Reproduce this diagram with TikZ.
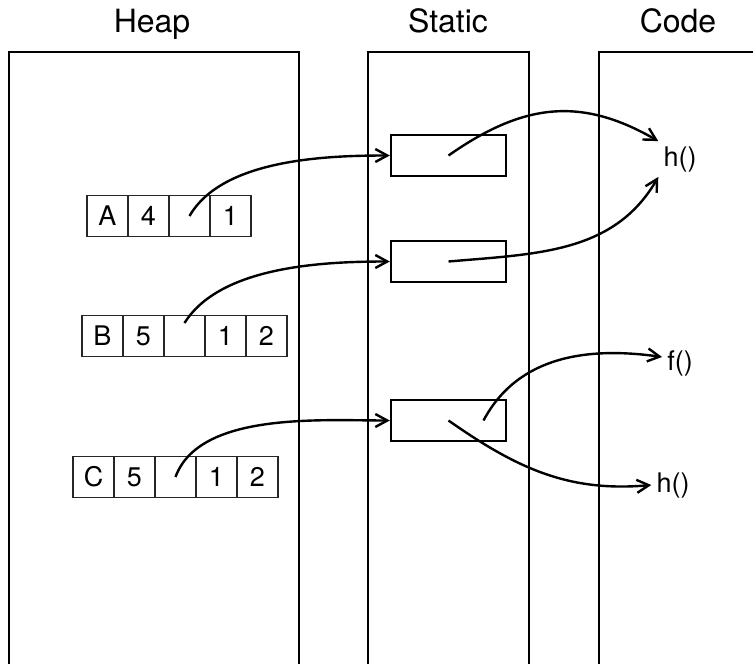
\documentclass[tikz,border=0pt]{standalone}
\usepackage{fontspec}
\setmainfont{TeX Gyre Heros}
\usetikzlibrary{arrows.meta,positioning}

\tikzset{
  region/.style={line width=2.4pt},
  title/.style={font=\fontsize{32}{38}\selectfont, anchor=base},
  cell/.style={draw=black!85, line width=1.6pt, minimum width=41pt, minimum height=41pt,
    inner sep=0pt, outer sep=0pt, font=\fontsize{27}{32}\selectfont},
  slot/.style={draw, line width=2.4pt, minimum width=115pt, minimum height=41pt, inner sep=0pt},
  func/.style={font=\fontsize{27}{32}\selectfont, anchor=base, inner sep=5pt},
  ptr/.style={line width=2.4pt, -{Straight Barb[length=12pt,width=13pt]}}
}

\begin{document}
\begin{tikzpicture}[x=1pt,y=-1pt]
\useasboundingbox (0,0) rectangle (753,664);

% Memory regions
\draw[region] (9,664) -- (9,52) -- (299,52) -- (299,664);
\draw[region] (368,664) -- (368,52) -- (529,52) -- (529,664);
\draw[region] (599,664) -- (599,52) -- (753,52);

% Region titles
\node[title] (heap) at (152,32) {Heap};
\node[title] (static) at (448,32) {Static};
\node[title] (code) at (678,32) {Code};

% Heap objects
\node[cell] (a1) at (107.5,216) {A};
\node[cell, right=0pt of a1] (a2) {4};
\node[cell, right=0pt of a2] (a3) {};
\node[cell, right=0pt of a3] (a4) {1};

\node[cell] (b1) at (102.5,336) {B};
\node[cell, right=0pt of b1] (b2) {5};
\node[cell, right=0pt of b2] (b3) {};
\node[cell, right=0pt of b3] (b4) {1};
\node[cell, right=0pt of b4] (b5) {2};

\node[cell] (c1) at (93.5,477) {C};
\node[cell, right=0pt of c1] (c2) {5};
\node[cell, right=0pt of c2] (c3) {};
\node[cell, right=0pt of c3] (c4) {1};
\node[cell, right=0pt of c4] (c5) {2};

% Static slots
\node[slot] (s1) at (448.5,155.5) {};
\node[slot] (s2) at (448.5,261.5) {};
\node[slot] (s3) at (448.5,420.5) {};

% Code entries
\node[func] (hA) at (680,166) {h()};
\node[func] (fC) at (680,370) {f()};
\node[func] (hC) at (673,492) {h()};

% Heap to static
\draw[ptr] (a3.center) to[out=60,in=180,looseness=0.8] (s1.west);
\draw[ptr] ([yshift=13pt]b3.center) to[out=58,in=180,looseness=0.8] (s2.west);
\draw[ptr] (c3.center) to[out=70,in=180,looseness=0.8] (s3.west);

% Static to code
\draw[ptr] (s1.center) to[out=35,in=150,looseness=1.1] (hA.north west);
\draw[ptr] (s2.center) to[out=5,in=-120] (hA.south west);
\draw[ptr] ([xshift=35pt]s3.center) to[out=62,in=172] ([yshift=6pt]fC.west);
\draw[ptr] (s3.center) to[out=-35,in=185] (hC.west);

\end{tikzpicture}
\end{document}
